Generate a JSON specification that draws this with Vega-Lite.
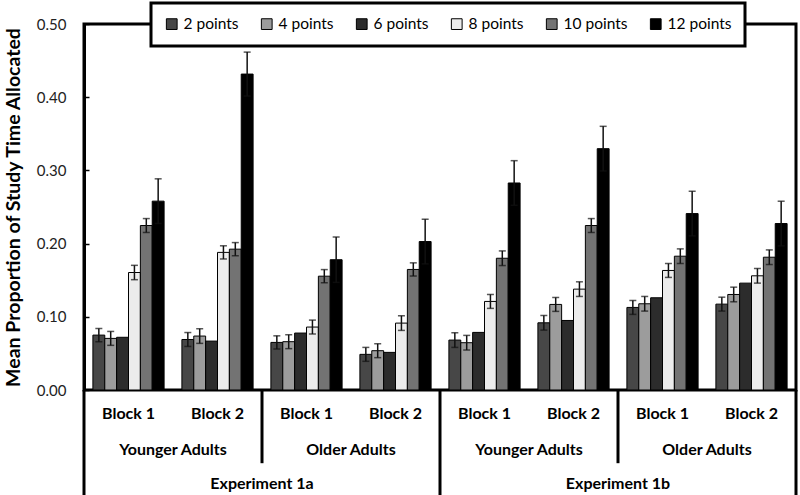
{
  "$schema": "https://vega.github.io/schema/vega-lite/v6.json",
  "width": 712,
  "height": 366,
  "autosize": {"type": "none"},
  "padding": {"left": 84, "top": 24, "right": 4, "bottom": 105},
  "background": "white",
  "config": {
    "font": "Lato",
    "view": {"stroke": "black", "strokeWidth": 3},
    "axisY": {
      "domainColor": "black", "domainWidth": 3, "grid": false,
      "tickColor": "black", "tickSize": -5, "tickWidth": 1.5,
      "labelFont": "Lato", "labelFontSize": 15, "labelColor": "#222", "labelPadding": 23,
      "titleFont": "Lato", "titleFontSize": 19.5, "titleFontWeight": "bold", "titleColor": "black", "titlePadding": 13
    },
    "legend": {
      "orient": "none", "legendX": 67, "legendY": -21, "direction": "horizontal",
      "fillColor": "white", "strokeColor": "black", "strokeWidth": 3, "padding": 13,
      "labelFont": "Lato", "labelFontSize": 15.5, "labelColor": "black", "labelOffset": 4,
      "symbolType": "square", "symbolSize": 115, "symbolStrokeColor": "black", "symbolStrokeWidth": 1,
      "columnPadding": 20, "title": null
    }
  },
  "datasets": {
    "bars": [
      {"g": 1, "p": "2 points", "v": 0.075, "lo": 0.066, "hi": 0.084},
      {"g": 1, "p": "4 points", "v": 0.0705, "lo": 0.061, "hi": 0.080},
      {"g": 1, "p": "6 points", "v": 0.072, "lo": null, "hi": null},
      {"g": 1, "p": "8 points", "v": 0.1605, "lo": 0.1507, "hi": 0.1703},
      {"g": 1, "p": "10 points", "v": 0.2247, "lo": 0.2152, "hi": 0.2342},
      {"g": 1, "p": "12 points", "v": 0.258, "lo": 0.2275, "hi": 0.2885},
      {"g": 2, "p": "2 points", "v": 0.069, "lo": 0.0595, "hi": 0.0785},
      {"g": 2, "p": "4 points", "v": 0.0737, "lo": 0.0637, "hi": 0.0837},
      {"g": 2, "p": "6 points", "v": 0.0668, "lo": null, "hi": null},
      {"g": 2, "p": "8 points", "v": 0.188, "lo": 0.179, "hi": 0.197},
      {"g": 2, "p": "10 points", "v": 0.1924, "lo": 0.1834, "hi": 0.2014},
      {"g": 2, "p": "12 points", "v": 0.4316, "lo": 0.4016, "hi": 0.4616},
      {"g": 3, "p": "2 points", "v": 0.065, "lo": 0.056, "hi": 0.074},
      {"g": 3, "p": "4 points", "v": 0.066, "lo": 0.0565, "hi": 0.0755},
      {"g": 3, "p": "6 points", "v": 0.0778, "lo": null, "hi": null},
      {"g": 3, "p": "8 points", "v": 0.086, "lo": 0.0765, "hi": 0.0955},
      {"g": 3, "p": "10 points", "v": 0.1555, "lo": 0.1465, "hi": 0.1645},
      {"g": 3, "p": "12 points", "v": 0.178, "lo": 0.147, "hi": 0.209},
      {"g": 4, "p": "2 points", "v": 0.0487, "lo": 0.0392, "hi": 0.0582},
      {"g": 4, "p": "4 points", "v": 0.0537, "lo": 0.0442, "hi": 0.0632},
      {"g": 4, "p": "6 points", "v": 0.0514, "lo": null, "hi": null},
      {"g": 4, "p": "8 points", "v": 0.0914, "lo": 0.0814, "hi": 0.1014},
      {"g": 4, "p": "10 points", "v": 0.1647, "lo": 0.1557, "hi": 0.1737},
      {"g": 4, "p": "12 points", "v": 0.2028, "lo": 0.1723, "hi": 0.2333},
      {"g": 5, "p": "2 points", "v": 0.0682, "lo": 0.0582, "hi": 0.0782},
      {"g": 5, "p": "4 points", "v": 0.0646, "lo": 0.0546, "hi": 0.0746},
      {"g": 5, "p": "6 points", "v": 0.0787, "lo": null, "hi": null},
      {"g": 5, "p": "8 points", "v": 0.121, "lo": 0.1115, "hi": 0.1305},
      {"g": 5, "p": "10 points", "v": 0.180, "lo": 0.170, "hi": 0.190},
      {"g": 5, "p": "12 points", "v": 0.2828, "lo": 0.2523, "hi": 0.3133},
      {"g": 6, "p": "2 points", "v": 0.0918, "lo": 0.0818, "hi": 0.1018},
      {"g": 6, "p": "4 points", "v": 0.1169, "lo": 0.1074, "hi": 0.1264},
      {"g": 6, "p": "6 points", "v": 0.095, "lo": null, "hi": null},
      {"g": 6, "p": "8 points", "v": 0.1378, "lo": 0.1278, "hi": 0.1478},
      {"g": 6, "p": "10 points", "v": 0.2247, "lo": 0.2152, "hi": 0.2342},
      {"g": 6, "p": "12 points", "v": 0.3297, "lo": 0.2992, "hi": 0.3602},
      {"g": 7, "p": "2 points", "v": 0.1128, "lo": 0.1033, "hi": 0.1223},
      {"g": 7, "p": "4 points", "v": 0.1178, "lo": 0.1078, "hi": 0.1278},
      {"g": 7, "p": "6 points", "v": 0.126, "lo": null, "hi": null},
      {"g": 7, "p": "8 points", "v": 0.1633, "lo": 0.1538, "hi": 0.1728},
      {"g": 7, "p": "10 points", "v": 0.1828, "lo": 0.1728, "hi": 0.1928},
      {"g": 7, "p": "12 points", "v": 0.241, "lo": 0.2105, "hi": 0.2715},
      {"g": 8, "p": "2 points", "v": 0.1173, "lo": 0.1078, "hi": 0.1268},
      {"g": 8, "p": "4 points", "v": 0.1305, "lo": 0.1205, "hi": 0.1405},
      {"g": 8, "p": "6 points", "v": 0.146, "lo": null, "hi": null},
      {"g": 8, "p": "8 points", "v": 0.156, "lo": 0.146, "hi": 0.166},
      {"g": 8, "p": "10 points", "v": 0.1814, "lo": 0.1714, "hi": 0.1914},
      {"g": 8, "p": "12 points", "v": 0.2274, "lo": 0.1969, "hi": 0.2579}
    ],
    "blocks": [
      {"g": 1, "t": "Block 1"}, {"g": 2, "t": "Block 2"}, {"g": 3, "t": "Block 1"}, {"g": 4, "t": "Block 2"},
      {"g": 5, "t": "Block 1"}, {"g": 6, "t": "Block 2"}, {"g": 7, "t": "Block 1"}, {"g": 8, "t": "Block 2"}
    ],
    "ages": [
      {"g": 1, "t": "Younger Adults"}, {"g": 3, "t": "Older Adults"},
      {"g": 5, "t": "Younger Adults"}, {"g": 7, "t": "Older Adults"}
    ],
    "exps": [
      {"g": 2, "t": "Experiment 1a"}, {"g": 6, "t": "Experiment 1b"}
    ]
  },
  "layer": [
    {
      "data": {"name": "bars"},
      "mark": {"type": "bar", "stroke": "black", "strokeWidth": 1},
      "encoding": {
        "x": {"field": "g", "type": "ordinal", "axis": null, "scale": {"paddingInner": 0, "paddingOuter": 0}},
        "xOffset": {"field": "p", "type": "nominal", "sort": ["2 points", "4 points", "6 points", "8 points", "10 points", "12 points"], "scale": {"paddingInner": 0, "paddingOuter": 0.75}},
        "y": {"field": "v", "type": "quantitative", "title": "Mean Proportion of Study Time Allocated",
              "scale": {"domain": [0, 0.5], "nice": false},
              "axis": {"values": [0, 0.1, 0.2, 0.3, 0.4, 0.5], "format": ".2f"}},
        "color": {"field": "p", "type": "nominal",
                  "scale": {"domain": ["2 points", "4 points", "6 points", "8 points", "10 points", "12 points"],
                            "range": ["#474747", "#9c9c9c", "#2c2c2c", "#ececec", "#737373", "#000000"]}}
      }
    },
    {
      "data": {"name": "bars"},
      "transform": [{"filter": "datum.lo != null"}],
      "mark": {"type": "rule", "color": "#111", "strokeWidth": 1.5},
      "encoding": {
        "x": {"field": "g", "type": "ordinal"},
        "xOffset": {"field": "p", "type": "nominal", "sort": ["2 points", "4 points", "6 points", "8 points", "10 points", "12 points"]},
        "y": {"field": "lo", "type": "quantitative"},
        "y2": {"field": "hi"}
      }
    },
    {
      "data": {"name": "bars"},
      "transform": [{"filter": "datum.lo != null"}],
      "mark": {"type": "tick", "orient": "horizontal", "color": "#111", "size": 7, "thickness": 1.5},
      "encoding": {
        "x": {"field": "g", "type": "ordinal"},
        "xOffset": {"field": "p", "type": "nominal", "sort": ["2 points", "4 points", "6 points", "8 points", "10 points", "12 points"]},
        "y": {"field": "lo", "type": "quantitative"}
      }
    },
    {
      "data": {"name": "bars"},
      "transform": [{"filter": "datum.hi != null"}],
      "mark": {"type": "tick", "orient": "horizontal", "color": "#111", "size": 7, "thickness": 1.5},
      "encoding": {
        "x": {"field": "g", "type": "ordinal"},
        "xOffset": {"field": "p", "type": "nominal", "sort": ["2 points", "4 points", "6 points", "8 points", "10 points", "12 points"]},
        "y": {"field": "hi", "type": "quantitative"}
      }
    },
    {
      "data": {"values": [{"g": 3}, {"g": 7}]},
      "mark": {"type": "rule", "color": "black", "strokeWidth": 3},
      "encoding": {
        "x": {"field": "g", "type": "ordinal", "bandPosition": 0},
        "y": {"datum": 0},
        "y2": {"datum": -0.1}
      }
    },
    {
      "data": {"values": [{"g": 1}, {"g": 5}]},
      "mark": {"type": "rule", "color": "black", "strokeWidth": 3},
      "encoding": {
        "x": {"field": "g", "type": "ordinal", "bandPosition": 0},
        "y": {"datum": 0},
        "y2": {"datum": -0.15}
      }
    },
    {
      "data": {"values": [{"g": 8}]},
      "mark": {"type": "rule", "color": "black", "strokeWidth": 3},
      "encoding": {
        "x": {"field": "g", "type": "ordinal", "bandPosition": 1},
        "y": {"datum": 0},
        "y2": {"datum": -0.15}
      }
    },
    {
      "data": {"name": "blocks"},
      "mark": {"type": "text", "font": "Lato", "fontSize": 16, "fontWeight": "bold", "color": "black", "dy": 24, "baseline": "middle"},
      "encoding": {
        "x": {"field": "g", "type": "ordinal", "bandPosition": 0.5},
        "y": {"datum": 0},
        "text": {"field": "t"}
      }
    },
    {
      "data": {"name": "ages"},
      "mark": {"type": "text", "font": "Lato", "fontSize": 16, "fontWeight": "bold", "color": "black", "dy": 60, "baseline": "middle"},
      "encoding": {
        "x": {"field": "g", "type": "ordinal", "bandPosition": 1},
        "y": {"datum": 0},
        "text": {"field": "t"}
      }
    },
    {
      "data": {"name": "exps"},
      "mark": {"type": "text", "font": "Lato", "fontSize": 16, "fontWeight": "bold", "color": "black", "dy": 94, "baseline": "middle"},
      "encoding": {
        "x": {"field": "g", "type": "ordinal", "bandPosition": 1},
        "y": {"datum": 0},
        "text": {"field": "t"}
      }
    }
  ]
}
